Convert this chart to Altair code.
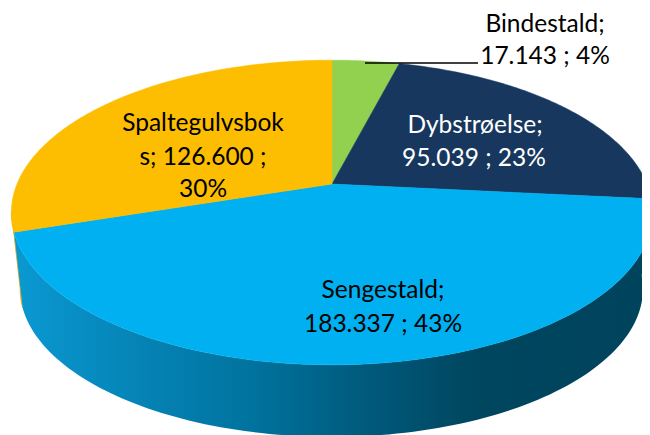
import math
import altair as alt
import pandas as pd

categories = ["Bindestald", "Dybstrøelse", "Sengestald", "Spaltegulvsboks"]
values = [17143, 95039, 183337, 126600]
slice_colors = ["#92D050", "#17375E", "#00B0F0", "#FDBD00"]
label_lines = ["Bindestald;", "17.143 ; 4%", "Dybstrøelse;", "95.039 ; 23%",
               "Spaltegulvsbok", "s;  126.600 ;", "30%", "Sengestald;", "183.337 ; 43%"]
label_colors = ["#000000", "#000000", "#FFFFFF", "#FFFFFF", "#000000", "#000000", "#000000", "#000000", "#000000"]
label_x = [545, 545, 475, 474, 203, 203, 203, 383, 383]
label_y = [32, 64, 133, 166, 131, 165, 197, 298, 332]

# projection of the pie disc
CX, CY, A, B, P = 332, 184, 315, 147, 0.187
CX2, CY2, A2, B2 = 331.5, 261, 306, 143


def top(t):
    w = 1 + P * math.cos(t)
    return CX + A * math.sin(t) / w, CY - B * math.cos(t) / w


def bottom(t):
    w = 1 + P * math.cos(t)
    return CX2 + A2 * math.sin(t) / w, CY2 - B2 * math.cos(t) / w


total = sum(values)
edges = [0.0]
for v in values:
    edges.append(edges[-1] + v / total * 2 * math.pi)


def arc(fn, a, b, n=120):
    return [fn(a + (b - a) * i / n) for i in range(n + 1)]


def poly(pts):
    pts = pts + [pts[0]]
    return pd.DataFrame({"x": [p[0] for p in pts], "y": [p[1] for p in pts], "o": range(len(pts))})


X = alt.X("x:Q", scale=alt.Scale(domain=[8, 642]), axis=None)
Y = alt.Y("y:Q", scale=alt.Scale(domain=[435, 8]), axis=None)


def shape(df, **kw):
    return alt.Chart(df).mark_line(interpolate="linear", clip=True, **kw).encode(x=X, y=Y, order="o:Q")


# walls
left_end = math.radians(259.5)
sliver = poly(arc(top, edges[3], left_end, 20) + arc(bottom, left_end, edges[3], 20))
wall = poly(arc(top, edges[2], edges[3]) + arc(bottom, edges[3], edges[2]))
wall_fill = alt.Gradient(
    gradient="linear", x1=0, x2=1, y1=0, y2=0,
    stops=[
        alt.GradientStop(color="#0A99D2", offset=0),
        alt.GradientStop(color="#0583B5", offset=0.2),
        alt.GradientStop(color="#00729D", offset=0.38),
        alt.GradientStop(color="#005A7C", offset=0.55),
        alt.GradientStop(color="#00465F", offset=0.72),
        alt.GradientStop(color="#00435D", offset=1),
    ],
)
layers = [
    shape(sliver, fill="#E0A800", stroke="#E0A800", strokeWidth=0.5),
    shape(wall, fill=wall_fill, strokeWidth=0),
]
for i, c in enumerate(slice_colors):
    pts = [(CX, CY)] + arc(top, edges[i], edges[i + 1])
    layers.append(shape(poly(pts), fill=c, stroke=c, strokeWidth=0.5))

leader = pd.DataFrame({"x": [365], "x2": [478], "y": [63]})
layers.append(alt.Chart(leader).mark_rule(color="#000000", strokeWidth=1.5).encode(x=X, x2="x2:Q", y=Y))

labels = pd.DataFrame({"x": label_x, "y": label_y, "t": label_lines, "c": label_colors})
layers.append(
    alt.Chart(labels).mark_text(font="Lato", fontSize=24.5, align="center", baseline="alphabetic").encode(
        x=X, y=Y, text="t:N", color=alt.Color("c:N", scale=None)
    )
)

chart = alt.layer(*layers).properties(
    width=634, height=427, padding=0, autosize="none",
).configure_view(stroke=None)
chart.save("out.html", embed_options={"renderer": "svg", "actions": False})
